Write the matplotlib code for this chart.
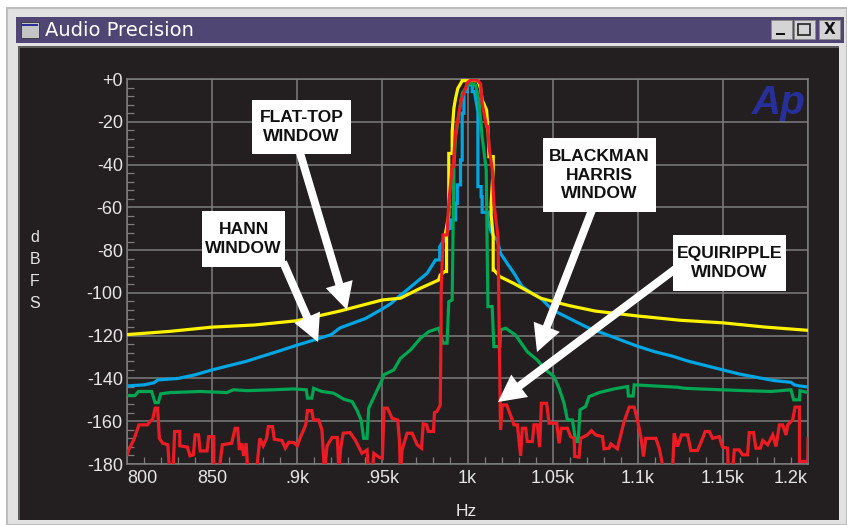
import matplotlib
matplotlib.use("Agg")
import matplotlib.pyplot as plt
from matplotlib.patches import Rectangle, FancyArrow

# ---------- data (Hz, dBFS) ----------
x_ticks = [800, 850, 900, 950, 1000, 1050, 1100, 1150, 1200]
x_labels = ["800", "850", ".9k", ".95k", "1k", "1.05k", "1.1k", "1.15k", "1.2k"]
y_ticks = list(range(0, -181, -20))
y_labels = ["+0"] + [str(v) for v in y_ticks[1:]]

yellow_f = [800, 825, 850, 875, 900, 925, 950, 960.6, 972.4, 983, 984, 986.7, 987.7, 987.7, 986.7, 986.7, 989, 989,
            989, 989, 990, 991, 991, 992, 993, 994.3, 996.9, 1006.1, 1007.7, 1008.6, 1011.2, 1012.2, 1012.6, 1015.1,
            1015.1, 1013.9, 1013.9, 1015.1, 1015.1, 1015.5, 1019, 1027, 1035, 1043, 1050, 1060, 1075, 1100, 1125, 1150,
            1175, 1200]
yellow_db = [-119.5, -118, -116, -115, -113, -108.5, -103.3, -102.5, -97.8, -94, -91.6, -90, -90, -73.7, -73.7, -73.7,
             -63.6, -58.1, -41, -34.8, -34.8, -34.8, -24.6, -13.7, -9, -4.4, -0.8, -0.8, -4.4, -9.8, -14.5, -25.4,
             -36.3, -36.3, -41.8, -58.1, -63.6, -73.7, -89.3, -89.3, -92.4, -95.5, -99, -102.5, -104, -106, -108.5,
             -110.8, -112.8, -114, -116, -117.5]

blue_f = [800, 810, 816, 818, 830, 840, 850, 860, 870, 880, 890, 900, 910, 920, 925, 940, 950, 955, 960, 964.5, 970.4,
          976.3, 981.2, 983.7, 983.7, 986.1, 989, 990, 990, 993, 993, 994, 994, 995.9, 995.9, 996.9, 996.9, 997.9, 997.9,
          999.8, 999.8, 1002.8, 1002.8, 1004.1, 1006.1, 1006.1, 1008, 1008, 1008.6, 1008.6, 1012, 1012, 1013.5, 1015.5,
          1017.5, 1019.4, 1023.3, 1027.3, 1032, 1038, 1043, 1050, 1060, 1070, 1080, 1090, 1100, 1110, 1120, 1130, 1140,
          1150, 1160, 1170, 1180, 1190, 1192, 1195, 1200]
blue_db = [-143.5, -143, -142, -140.7, -140, -138.3, -136, -134, -132, -129.5, -127, -124.4, -122, -119.5, -116.4, -112,
           -107.5, -105, -101.5, -98.6, -94.7, -90.8, -84.6, -84.6, -78.4, -75.3, -69.8, -69.8, -65.9, -65.9, -58.1, -58.1,
           -49.5, -49.5, -37.9, -37.9, -16, -16, -5.9, -5.9, -2.8, -2.8, -5.9, -5.9, -15.3, -50.3, -50.3, -55, -55, -62.3,
           -62.3, -65.9, -70.6, -73.7, -75.3, -81.5, -86.2, -90.8, -97, -100.2, -102.5, -108, -112, -116, -119, -122,
           -125, -127.5, -129.5, -132, -134, -136, -138, -139.5, -141, -141.8, -143, -143.5, -144]

green_f = [800, 804.7, 806.7, 814.5, 816.5, 818.4, 819.8, 825.3, 843, 858.6, 862.5, 870.4, 886, 897.8, 905.3, 906,
           908.6, 909.6, 914.5, 921.4, 927.3, 932.2, 935, 937.5, 939, 941, 942, 945.9, 949.8, 950.8, 956.7, 960.6,
           966.5, 972.4, 977.3, 983.1, 985.7, 988, 989, 991, 992, 993, 994.9, 996.9, 998.8, 1000.8, 1004.7, 1006.7,
           1008.6, 1011, 1012, 1014.5, 1015.5, 1019, 1019.4, 1022.4, 1028.2, 1035.1, 1041, 1045.9, 1050.8, 1053.8,
           1056.7, 1058.7, 1061.6, 1063.6, 1065, 1066.1, 1069.4, 1071.4, 1077.3, 1086.1, 1094, 1094.5, 1097.3, 1097.9,
           1123.4, 1127.3, 1139, 1162.6, 1178.3, 1190, 1191.6, 1195, 1195.3, 1200]
green_db = [-148, -148, -146.1, -146.1, -151.3, -151.3, -147.2, -146.6, -146.1, -146.6, -145.3, -145.7, -145.3,
            -144.9, -145.3, -149.2, -149.2, -144.6, -146.1, -146.9, -149.7, -150.8, -154.7, -159.4, -168, -168,
            -153.9, -147.2, -140.7, -138.3, -136, -130.6, -126.7, -121.2, -118.1, -116.5, -123.5, -123.5, -104.1,
            -103.3, -41, -27, -16.8, -6.7, -4.4, -2, -2.8, -9.8, -27, -42.5, -106.4, -106.4, -125.1, -125.1, -117.3,
            -116.5, -119.7, -127.5, -131.4, -136, -139.1, -144.6, -151.6, -159.4, -159.4, -169.5, -169.5, -154.7,
            -153.1, -148.5, -146.6, -144.9, -143.8, -148.2, -148.2, -143, -144.1, -144.6, -145, -145.7, -146.1,
            -145.3, -150, -150, -145.7, -146.6]

red_f = [800, 801, 804, 807, 812, 814, 815, 816.5, 818, 819, 821, 824, 825, 827, 828, 831, 831, 835.5, 837, 839, 840,
         842, 843, 847, 848, 851, 851, 854, 856, 861.5, 863.5, 865, 866, 867.5, 868.5, 870, 871, 876, 878, 880, 882,
         883, 885.5, 886.5, 891, 893, 895, 898, 900, 902, 905, 906, 908.5, 909.5, 912.5, 914.5, 916, 917.5, 920.5,
         923.5, 924.5, 925.5, 927, 931, 934, 938, 941, 942, 944, 945, 948, 950, 951, 953, 955.7, 959, 960, 960.6,
         961.6, 964.5, 967.5, 970.4, 973, 974, 976, 977, 980, 980.6, 982, 984, 984.5, 984.5, 985.7, 988, 989, 991,
         991.6, 993, 994, 996.3, 1000, 1001.8, 1005.7, 1007.7, 1008.6, 1011.2, 1012, 1012.6, 1014.5, 1014.5, 1015.5,
         1017.9, 1017.9, 1019.4, 1019.4, 1020.4, 1023, 1026.3, 1027.3, 1029.3, 1030.2, 1031.2, 1032.2, 1034.2, 1035.1,
         1038.1, 1039, 1041, 1042.4, 1043.4, 1046.5, 1047.9, 1052.4, 1053.8, 1055.1, 1058.7, 1060.6, 1062.6, 1063,
         1065.5, 1066.5, 1070.4, 1072.8, 1075.3, 1079.3, 1080.2, 1083.2, 1084.2, 1088, 1090, 1092, 1095, 1097.9,
         1099.8, 1101.8, 1103.4, 1104.7, 1110.6, 1112.6, 1115.5, 1120.4, 1121.4, 1123.4, 1125.7, 1129.3, 1131.2,
         1135.1, 1138.1, 1139.6, 1142, 1144, 1147.9, 1149.8, 1152.8, 1153.2, 1155.7, 1156.7, 1159.6, 1161.6, 1164.5,
         1165.5, 1168, 1169.4, 1172, 1173.4, 1176.3, 1179.3, 1181.2, 1183.2, 1185.1, 1187.1, 1188.1, 1191, 1192.4,
         1195, 1195, 1199.8, 1200]
red_db = [-175.7, -173.4, -168.7, -161.7, -161.7, -159.7, -159.4, -153.9, -153.9, -168, -170.3, -171, -184, -184,
          -164.8, -164.8, -171.5, -172.1, -176.2, -175.7, -166.4, -166.4, -173.9, -173.9, -167.2, -167.2, -184, -184,
          -171, -170.3, -163.3, -163.3, -173.4, -170.3, -176.2, -170.3, -184, -184, -168, -171.5, -168, -162.5, -162.5,
          -168.4, -169, -172.6, -169.8, -170, -171.5, -167.2, -161.7, -155, -155, -159.4, -159.4, -164, -184, -171.5,
          -167.6, -167.6, -184, -172.6, -165.6, -165.3, -168.7, -175, -173.4, -184, -184, -175, -176.8, -177.3, -153.9,
          -153.9, -158.6, -159.4, -168.7, -184, -173.4, -165.6, -165.6, -171, -172.6, -161.2, -161.7, -164.8, -164.8,
          -156, -155.5, -152.4, -113.4, -100, -72.9, -72.9, -58.1, -41, -41, -24.6, -20.7, -9.8, -1.7, -0.5, -0.5,
          -2.3, -11.4, -22.3, -22.3, -31.6, -41.8, -41.8, -58.1, -73.7, -73.7, -164, -164, -152.4, -152.4, -159.4,
          -161.7, -161.7, -168.7, -176.2, -163.3, -163.3, -169.5, -169.5, -161.7, -161.7, -172.1, -151.6, -151.6,
          -160.9, -160.9, -170.3, -163.3, -163.3, -167.2, -168, -176.5, -176.8, -168, -166.4, -164.4, -166.4, -167.2,
          -172.9, -172.6, -170.6, -172.9, -166.4, -160.1, -153.4, -153.4, -159.4, -167.2, -176.5, -168, -168, -172.6,
          -184, -184, -165.6, -171.8, -166.4, -166.4, -173.7, -173.7, -168, -164.8, -164.8, -168, -167.2, -172.1,
          -172.6, -184, -184, -173.4, -173.4, -175.7, -175.7, -165.3, -165.3, -172.6, -172.6, -169, -171, -166.4,
          -171.8, -161.7, -161.7, -166.4, -161.7, -159.4, -153.4, -153.4, -178.8, -178.8, -168]

C_BG = "#231f20"
C_GRID = "#7d7d7d"
C_TEXT = "#e6e6e6"
W, H = 847, 525

fig = plt.figure(figsize=(W / 100, H / 100), dpi=100, facecolor="white")


def px_axes(z):
    a = fig.add_axes([0, 0, 1, 1], zorder=z)
    a.set_xlim(0, W)
    a.set_ylim(H, 0)
    a.axis("off")
    a.patch.set_alpha(0)
    return a


# ---------- window chrome ----------
chrome = px_axes(0)
chrome.add_patch(Rectangle((7, 8), 840, 517, fc="#e2e2e2", ec="#bdbdbd", lw=1.5))
chrome.add_patch(Rectangle((16, 17), 828, 26, fc="#4f4674", ec="none"))
chrome.add_patch(Rectangle((18, 46), 821, 474, fc="#5a5a5a", ec="none"))
chrome.add_patch(Rectangle((20, 48), 819, 472, fc=C_BG, ec="none"))
chrome.add_patch(Rectangle((21, 22), 18, 16, fc="#c4c4c4", ec="#333333", lw=0.6))
chrome.add_patch(Rectangle((22, 24), 16, 1.5, fc="#2a2f96", ec="none"))
chrome.text(45, 30.5, "Audio Precision", color="white", fontsize=14, family="DejaVu Sans",
            va="center", ha="left")
for (bx, bw) in [(771, 21), (794, 21), (819, 21)]:
    chrome.add_patch(Rectangle((bx, 20), bw, 19, fc="#d4d4d4", ec="#8a8a8a", lw=0.6))
chrome.add_patch(Rectangle((776, 32.5), 9, 2.5, fc="#111111", ec="none"))
chrome.add_patch(Rectangle((798, 24), 12, 11, fc="none", ec="#222222", lw=1.2))
chrome.text(829.5, 29.5, "X", color="#111111", fontsize=11, fontweight="bold", ha="center", va="center",
            family="DejaVu Sans")
chrome.text(779, 103, "Ap", color="#27309a", fontsize=29, fontweight="bold", style="italic",
            family="Liberation Sans", ha="center", va="center")

# ---------- plot ----------
L, R, T, B = 127, 808, 79, 464
ax = fig.add_axes([L / W, 1 - B / H, (R - L) / W, (B - T) / H], zorder=1)
ax.patch.set_alpha(0)
ax.set_xlim(800, 1200)
ax.set_ylim(-180, 0)
for s in ax.spines.values():
    s.set_color(C_GRID)
    s.set_linewidth(1.1)
ax.set_xticks(x_ticks)
ax.set_xticklabels(x_labels)
ax.set_yticks(y_ticks)
ax.set_yticklabels(y_labels)
ax.set_xticks(range(800, 1201, 10), minor=True)
ax.set_yticks(range(-180, 1, 4), minor=True)
ax.grid(True, which="major", color=C_GRID, lw=1.1)
ax.tick_params(axis="both", which="major", length=0, labelcolor=C_TEXT, labelsize=13, pad=3)
ax.tick_params(axis="x", which="major", pad=4)
ax.tick_params(axis="both", which="minor", direction="in", length=5, width=0.9, color=C_GRID)
for t in ax.get_xticklabels() + ax.get_yticklabels():
    t.set_family("Liberation Sans")
ax.get_xticklabels()[0].set_ha("left")
ax.get_xticklabels()[-1].set_ha("right")

ax.plot(blue_f, blue_db, color="#00a6e4", lw=2.3, solid_joinstyle="miter", zorder=3)
ax.plot(yellow_f, yellow_db, color="#fff200", lw=2.3, solid_joinstyle="miter", zorder=4)
ax.plot(green_f, green_db, color="#00a651", lw=2.3, solid_joinstyle="miter", zorder=5)
ax.plot(red_f, red_db, color="#ed1c24", lw=2.3, solid_joinstyle="miter", zorder=6)

# ---------- axis titles and annotations ----------
over = px_axes(2)
over.text(466, 511, "Hz", color=C_TEXT, fontsize=12.5, family="Liberation Sans", ha="center", va="center")
for ch, yy in zip("dBFS", [237, 259, 281, 304]):
    over.text(35, yy, ch, color=C_TEXT, fontsize=11.5, family="Liberation Sans", ha="center", va="center")

boxes = [
    ((252, 100, 99, 54), "FLAT-TOP\nWINDOW"),
    ((202, 211, 83, 56), "HANN\nWINDOW"),
    ((543, 138, 113, 74), "BLACKMAN\nHARRIS\nWINDOW"),
    ((673, 235, 113, 56), "EQUIRIPPLE\nWINDOW"),
]
arrows = [((300, 153), (347, 310)), ((283, 262), (318, 342)), ((592, 210), (537, 352)), ((690, 258), (498, 402))]
for (p0, p1) in arrows:
    over.add_patch(FancyArrow(p0[0], p0[1], p1[0] - p0[0], p1[1] - p0[1], width=8, head_width=28, head_length=27,
                              length_includes_head=True, fc="white", ec="none"))
for (bx, by, bw, bh), label in boxes:
    over.add_patch(Rectangle((bx, by), bw, bh, fc="white", ec="none"))
    over.text(bx + bw / 2, by + bh / 2, label, color="#111111", fontsize=12.6, fontweight="bold", ha="center",
              va="center", linespacing=1.3, family="Liberation Sans")

fig.savefig("out.png", dpi=100, facecolor="white")
